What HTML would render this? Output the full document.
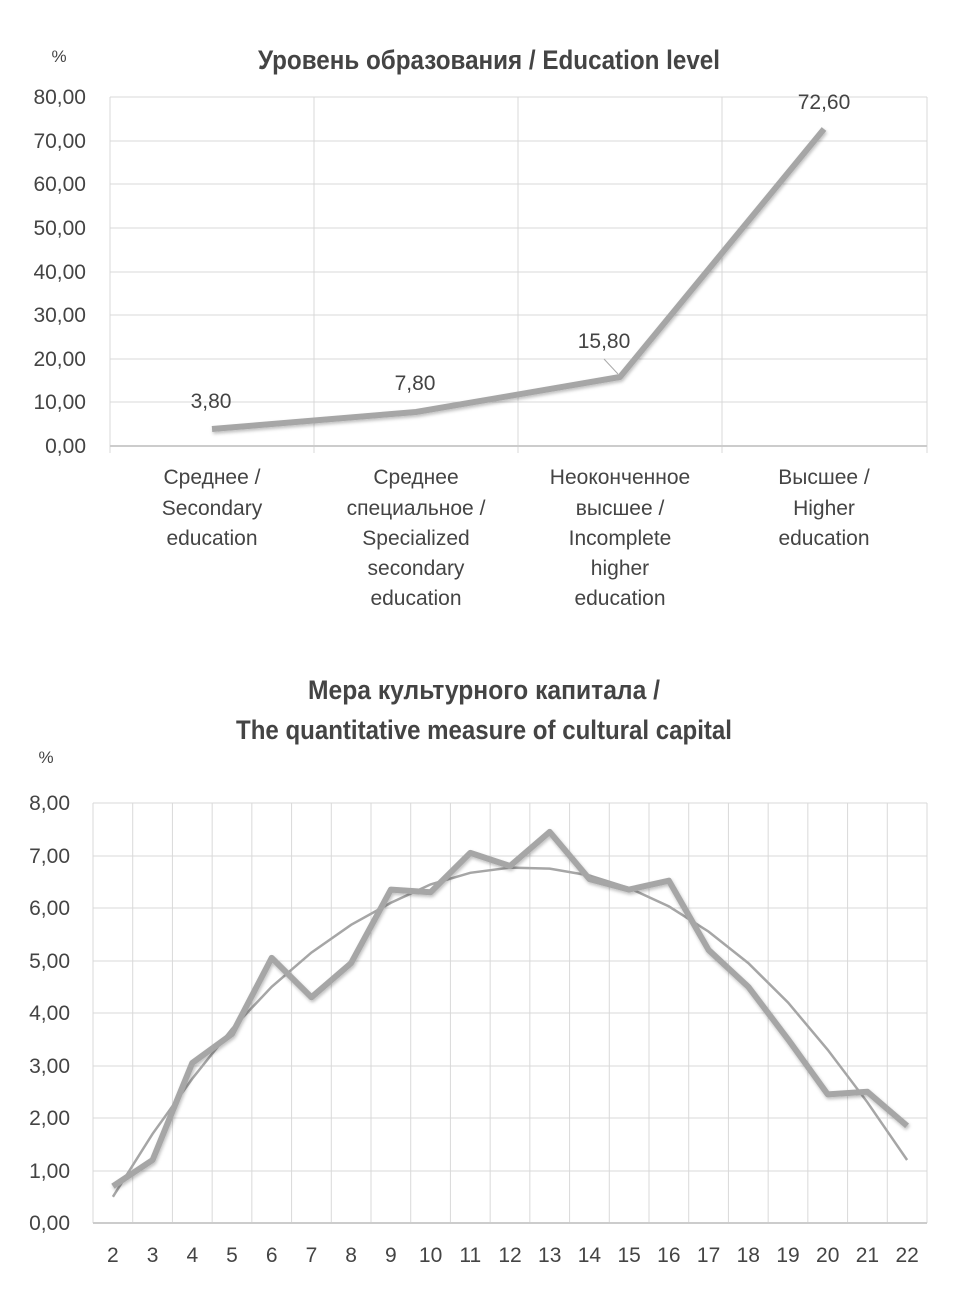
<!DOCTYPE html>
<html><head><meta charset="utf-8"><style>
body{margin:0;background:#fff;}
svg text{font-family:"Liberation Sans",sans-serif;fill:#444;}
</style></head><body>
<svg width="963" height="1299" xmlns="http://www.w3.org/2000/svg">
<defs><filter id="sh" x="-5%" y="-5%" width="110%" height="110%"><feDropShadow dx="1" dy="2" stdDeviation="1.5" flood-color="#000" flood-opacity="0.25"/></filter></defs>
<!-- Top chart -->
<text x="59" y="62" font-size="17" text-anchor="middle" fill="#555">%</text>
<text x="489" y="69" font-size="24" font-weight="bold" text-anchor="middle" fill="#444" transform="translate(489,69) scale(1,1.1) translate(-489,-69)" textLength="462" lengthAdjust="spacingAndGlyphs">Уровень образования / Education level</text>
<g stroke="#d9d9d9" stroke-width="1">
<line x1="110" y1="97" x2="927" y2="97"/><line x1="110" y1="141" x2="927" y2="141"/><line x1="110" y1="184" x2="927" y2="184"/><line x1="110" y1="228" x2="927" y2="228"/><line x1="110" y1="272" x2="927" y2="272"/><line x1="110" y1="315" x2="927" y2="315"/><line x1="110" y1="359" x2="927" y2="359"/><line x1="110" y1="402" x2="927" y2="402"/>
<line x1="314" y1="97" x2="314" y2="453"/><line x1="518" y1="97" x2="518" y2="453"/><line x1="722" y1="97" x2="722" y2="453"/><line x1="927" y1="97" x2="927" y2="453"/><line x1="110" y1="97" x2="110" y2="453"/>
</g>
<line x1="110" y1="446" x2="927" y2="446" stroke="#ccc" stroke-width="2"/>
<g font-size="21" text-anchor="end" fill="#444">
<text x="86" y="104">80,00</text><text x="86" y="148">70,00</text><text x="86" y="191">60,00</text><text x="86" y="235">50,00</text><text x="86" y="279">40,00</text><text x="86" y="322">30,00</text><text x="86" y="366">20,00</text><text x="86" y="409">10,00</text><text x="86" y="453">0,00</text>
</g>
<line x1="604" y1="359" x2="618" y2="374" stroke="#aaa" stroke-width="1"/>
<polyline points="212,429 416,412 620,377 824,129" fill="none" stroke="#a6a6a6" stroke-width="6" stroke-linejoin="round" filter="url(#sh)"/>
<g font-size="21" text-anchor="middle">
<text x="211" y="408">3,80</text><text x="415" y="390">7,80</text><text x="604" y="348">15,80</text><text x="824" y="109">72,60</text>
</g>
<g font-size="21" text-anchor="middle">
<text x="212" y="484">Среднее /</text><text x="212" y="515">Secondary</text><text x="212" y="545">education</text>
<text x="416" y="484">Среднее</text><text x="416" y="515">специальное /</text><text x="416" y="545">Specialized</text><text x="416" y="575">secondary</text><text x="416" y="605">education</text>
<text x="620" y="484">Неоконченное</text><text x="620" y="515">высшее /</text><text x="620" y="545">Incomplete</text><text x="620" y="575">higher</text><text x="620" y="605">education</text>
<text x="824" y="484">Высшее /</text><text x="824" y="515">Higher</text><text x="824" y="545">education</text>
</g>
<!-- Bottom chart -->
<g font-size="24" font-weight="bold" text-anchor="middle" fill="#444">
<text x="484" y="699" textLength="352" lengthAdjust="spacingAndGlyphs" transform="translate(484,699) scale(1,1.1) translate(-484,-699)">Мера культурного капитала /</text>
<text x="484" y="739" textLength="496" lengthAdjust="spacingAndGlyphs" transform="translate(484,739) scale(1,1.1) translate(-484,-739)">The quantitative measure of cultural capital</text>
</g>
<text x="46" y="763" font-size="17" text-anchor="middle" fill="#555">%</text>
<g stroke="#d9d9d9" stroke-width="1">
<line x1="93" y1="803" x2="927" y2="803"/><line x1="93" y1="856" x2="927" y2="856"/><line x1="93" y1="908" x2="927" y2="908"/><line x1="93" y1="961" x2="927" y2="961"/><line x1="93" y1="1013" x2="927" y2="1013"/><line x1="93" y1="1066" x2="927" y2="1066"/><line x1="93" y1="1118" x2="927" y2="1118"/><line x1="93" y1="1171" x2="927" y2="1171"/>
</g>
<g stroke="#d9d9d9" stroke-width="1" id="vg"></g>
<line x1="93" y1="1223" x2="927" y2="1223" stroke="#ccc" stroke-width="2"/>
<g font-size="21" text-anchor="end">
<text x="70" y="810">8,00</text><text x="70" y="863">7,00</text><text x="70" y="915">6,00</text><text x="70" y="968">5,00</text><text x="70" y="1020">4,00</text><text x="70" y="1073">3,00</text><text x="70" y="1125">2,00</text><text x="70" y="1178">1,00</text><text x="70" y="1230">0,00</text>
</g>
<g id="xl" font-size="21" text-anchor="middle"></g>
<polyline id="tr" fill="none" stroke="#a6a6a6" stroke-width="2.5"/>
<polyline id="dl" fill="none" stroke="#a6a6a6" stroke-width="6" stroke-linejoin="round" filter="url(#sh)"/>
</svg>
<script>
var ns="http://www.w3.org/2000/svg",vg=document.getElementById('vg'),xl=document.getElementById('xl');
var w=834/21;
for(var i=0;i<=21;i++){var l=document.createElementNS(ns,'line');var x=93+i*w;l.setAttribute('x1',x);l.setAttribute('x2',x);l.setAttribute('y1',803);l.setAttribute('y2',1223);vg.appendChild(l);}
for(var i=0;i<21;i++){var t=document.createElementNS(ns,'text');t.setAttribute('x',93+w*(i+.5));t.setAttribute('y',1262);t.textContent=i+2;xl.appendChild(t);}
var d=[0.7,1.2,3.05,3.6,5.05,4.3,4.95,6.35,6.3,7.05,6.8,7.45,6.55,6.35,6.52,5.2,4.5,3.5,2.45,2.5,1.85];
var tr=[0.5,1.7,2.75,3.7,4.5,5.15,5.68,6.1,6.45,6.67,6.77,6.75,6.62,6.38,6.03,5.55,4.95,4.2,3.3,2.3,1.2];
function pts(a){return a.map(function(v,i){return (93+w*(i+.5)).toFixed(1)+','+(1223-v*52.5).toFixed(1)}).join(' ');}
document.getElementById('dl').setAttribute('points',pts(d));
document.getElementById('tr').setAttribute('points',pts(tr));
</script>
</body></html>
